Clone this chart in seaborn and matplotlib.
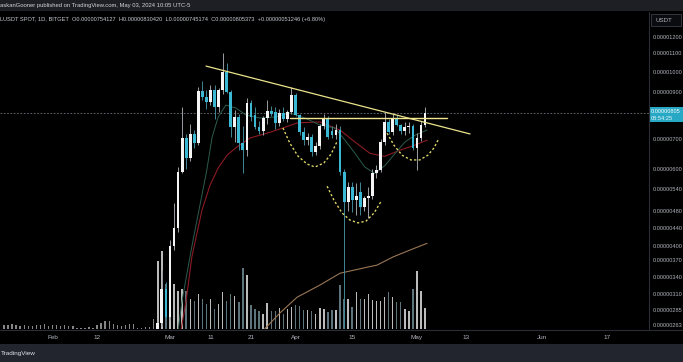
"""
Daily candles of a BITGET spot pair with volume, moving averages and the
trader's drawings (falling trendline, neckline and three cup arcs),
styled like a dark TradingView snapshot.
"""

import numpy as np
import pandas as pd
import matplotlib
matplotlib.use("Agg")
import matplotlib.pyplot as plt
import seaborn as sns
from matplotlib.patches import Rectangle
from matplotlib.lines import Line2D
from matplotlib.ticker import FuncFormatter, NullLocator


# ---- data (prices in units of 1e-8 USDT, days counted from 2024-03-01) ----
candle_day = list(range(-3, 64))
opens = [256, 266, 318, 275, 399, 439, 589, 705, 634, 720, 686, 902, 874, 850, 908, 830,
         905, 997, 898, 747, 787, 686, 662, 847, 795, 747, 731, 783, 812, 808, 763, 804,
         779, 808, 884, 795, 727, 697, 710, 655, 675, 750, 783, 730, 716, 735, 589, 503,
         545, 509, 530, 490, 514, 520, 586, 596, 690, 767, 727, 783, 755, 731, 745, 752,
         669, 705, 754]
highs = [268, 352, 330, 412, 500, 605, 830, 720, 760, 735, 920, 950, 905, 930, 930, 915,
         1102, 1046, 905, 816, 800, 750, 870, 860, 830, 770, 790, 860, 835, 830, 820, 830,
         815, 922, 895, 800, 745, 725, 720, 690, 760, 800, 790, 750, 760, 750, 600, 560,
         560, 555, 560, 520, 545, 600, 610, 700, 810, 780, 804, 795, 760, 765, 765, 760,
         723, 770, 830]
lows = [252, 262, 270, 270, 390, 430, 585, 600, 625, 670, 680, 860, 820, 840, 780, 810,
        890, 895, 708, 690, 662, 586, 640, 770, 740, 720, 715, 760, 790, 740, 750, 770,
        765, 800, 790, 715, 680, 680, 640, 645, 665, 740, 700, 705, 700, 580, 240, 480,
        477, 470, 470, 480, 462, 510, 570, 590, 680, 720, 715, 750, 720, 715, 725, 660,
        596, 695, 745]
closes = [266, 318, 275, 399, 439, 589, 705, 634, 720, 686, 902, 874, 850, 908, 830, 905,
          997, 898, 747, 787, 686, 662, 847, 787, 747, 731, 783, 812, 800, 763, 804, 779,
          808, 884, 795, 727, 697, 710, 655, 675, 750, 783, 710, 716, 735, 589, 503, 545,
          509, 520, 490, 514, 520, 586, 596, 690, 767, 727, 783, 755, 731, 745, 752, 669,
          705, 754, 805]

vol_day = list(range(-41, 64))
volume = [4, 4, 5, 4, 3, 4, 3, 3, 4, 4, 5, 3, 4, 4, 3, 4, 3, 3,
          1, 1, 1, 2, 1,
          4, 6, 8, 8, 5, 4, 3, 4, 5, 5,
          1, 1, 2, 2, 10,
          68, 78, 45, 70, 45, 38, 40, 38, 30, 28, 35, 30, 25, 30, 20, 25, 37, 28,
          35, 33, 27, 61, 54, 24, 20, 18, 15, 26, 18, 18, 21, 15, 20, 22, 24, 23,
          19, 19, 18, 15, 21, 20, 17, 19, 19, 44, 30, 30, 22, 37, 30, 30, 35, 29,
          28, 28, 32, 37, 32, 27, 27, 20, 18, 40, 58, 38, 21]

# moving averages
ma_fast_day = [2, 3, 4.2, 5.7, 7.4, 9.1, 10.4, 11.9, 13.8, 16.3, 18.8, 22.2, 25.9, 29.6,
               33.3, 37, 40.7, 43.2, 45.7, 48.1, 50.6, 53.1, 55, 58, 60.5, 63.5]
ma_fast = [256, 300, 346, 412, 495, 596, 708, 787, 838, 825, 795, 783, 787, 804,
           783, 755, 743, 697, 650, 605, 585, 610, 640, 690, 715, 735]
ma_mid_day = [2.7, 4, 5.4, 7.9, 9.9, 11.9, 14.1, 16.5, 19.8, 24, 27.9, 31.4, 37, 42,
              45.7, 49.4, 53, 56.8, 60.5, 63.5]
ma_mid = [256, 300, 377, 482, 550, 602, 644, 672, 705, 723, 743, 763, 767, 735,
          690, 650, 640, 661, 679, 697]
ma_slow_day = [23, 27.2, 31.4, 37, 42, 48.6, 51.1, 55.1, 59.3, 63.5]
ma_slow = [256, 281, 305, 325, 346, 357, 361, 377, 391, 405]

# drawings
trend_day = [8.9, 74.1]
trend_price = [1029, 720]
neck_day = [29.6, 68.4]
neck_price = [783, 783]
cup1_day = [27.9, 29.6, 31.6, 33.8, 35.8, 38.0, 39.8, 41.2]
cup1_price = [743, 686, 641, 615, 605, 618, 648, 690]
cup2_day = [38.8, 40.5, 42.5, 44.4, 46.4, 48.4, 50.4, 52.3]
cup2_price = [547, 508, 475, 458, 451, 455, 475, 508]
cup3_day = [53.6, 55.3, 57.3, 59.5, 61.7, 63.7, 65.2, 66.2]
cup3_price = [723, 679, 644, 628, 628, 644, 669, 697]

last_price = 805
price_ticks = [1200, 1100, 1000, 900, 700, 600, 540, 480, 440, 400, 370, 340, 310, 285, 263]
date_ticks = [-29, -18, 0, 10, 20, 31, 45, 61, 73, 92, 108]
date_labels = ["Feb", "12", "Mar", "11", "21", "Apr", "15", "May", "13", "Jun", "17"]

UP = "#f5f5f5"
DOWN = "#3bb8d3"
TEXT = "#b2b5be"

sns.set_theme(style="dark", rc={"axes.facecolor": "#000000",
                                "figure.facecolor": "#000000",
                                "axes.grid": False})
plt.rcParams["font.family"] = ["Liberation Sans", "DejaVu Sans"]

W, H = 683, 362


def box(x0, y0, x1, y1):
    """pixel box (top-left origin) -> figure-fraction rect"""
    return [x0 / W, 1 - y1 / H, (x1 - x0) / W, (y1 - y0) / H]


fig = plt.figure(figsize=(W / 100, H / 100), dpi=100)

ax_vol = fig.add_axes(box(0, 11, 649, 329))
ax = fig.add_axes(box(0, 11, 649, 329), sharex=ax_vol)
ax_vol.set_zorder(1)
ax.set_zorder(2)
ax.patch.set_alpha(0)

df = pd.DataFrame({"day": candle_day, "open": opens, "high": highs,
                   "low": lows, "close": closes})
df["up"] = df["close"] >= df["open"]

# --- volume ---
up_by_day = dict(zip(df["day"], df["up"]))
vol_colors = []
for d in vol_day:
    if d not in up_by_day:
        vol_colors.append((0.75, 0.75, 0.75, 0.7))
    elif up_by_day[d]:
        vol_colors.append((0.92, 0.92, 0.92, 0.8))
    else:
        vol_colors.append((0.62, 0.76, 0.82, 0.6))
ax_vol.bar(vol_day, volume, width=0.35, color=vol_colors, linewidth=0)
ax_vol.set_ylim(0, max(volume) * 4.1)
ax_vol.set_yticks([])

# --- candles (wicks are drawn dimmer than the bodies) ---
wick_colors = np.where(df["up"], "#9a9da3", "#3f8796")
ax.vlines(df["day"], df["low"], df["high"], colors=wick_colors, linewidth=0.7, zorder=3)
body_low = df[["open", "close"]].min(axis=1)
body_h = (df["close"] - df["open"]).abs().clip(lower=2)
ax.bar(df["day"], body_h, bottom=body_low, width=0.7,
       color=np.where(df["up"], UP, DOWN), linewidth=0, zorder=4)

# --- moving averages ---
sns.lineplot(x=ma_slow_day, y=ma_slow, ax=ax, color="#9a7656", linewidth=0.8, zorder=2)
sns.lineplot(x=ma_mid_day, y=ma_mid, ax=ax, color="#8a1c22", linewidth=0.8, zorder=2)
sns.lineplot(x=ma_fast_day, y=ma_fast, ax=ax, color="#2c5c4e", linewidth=0.7, zorder=2)

# --- drawings ---
ax.plot(trend_day, trend_price, color="#ebe48c", linewidth=0.9, zorder=5)
ax.plot(neck_day, neck_price, color="#f3e68f", linewidth=1.0, zorder=5)
for cd, cp in [(cup1_day, cup1_price), (cup2_day, cup2_price), (cup3_day, cup3_price)]:
    ax.plot(cd, cp, color="#ddd467", linewidth=1.0, linestyle=(0, (1.6, 1.6)), zorder=5)

ax.axhline(last_price, color="#6f737c", linewidth=0.6, linestyle=(0, (2, 2)), zorder=1)

# --- axes ---
ax.set_yscale("log")
ax.set_ylim(258, 1375)
ax.set_xlim(-41.98, 118.3)
ax.yaxis.tick_right()
ax.set_yticks(price_ticks)
ax.yaxis.set_minor_locator(NullLocator())
ax.yaxis.set_major_formatter(FuncFormatter(lambda v, _: f"{v * 1e-8:.8f}"))
ax.set_xticks(date_ticks)
ax.set_xticklabels(date_labels)
ax.tick_params(axis="y", length=0, pad=2.5, labelsize=4.1, labelcolor=TEXT)
ax.tick_params(axis="x", length=0, pad=4.5, labelsize=4.6, labelcolor=TEXT)
ax.set_xlabel("")
ax.set_ylabel("")
for a in (ax, ax_vol):
    for s in a.spines.values():
        s.set_visible(False)
ax_vol.tick_params(axis="x", labelbottom=False, length=0)

# --- frame pieces, header and footer ---
fig.add_artist(Line2D([649 / W, 649 / W], [1 - 329 / H, 1 - 12 / H],
                      color="#2a2d35", linewidth=0.8))
fig.add_artist(Line2D([0, 1], [1 - 329.5 / H, 1 - 329.5 / H],
                      color="#2a2d35", linewidth=0.8))
fig.add_artist(Rectangle((0, 1 - 11 / H), 1, 11 / H, transform=fig.transFigure,
                         facecolor="#1d1f25", edgecolor="none"))
fig.add_artist(Rectangle((0, 0), 1, 18 / H, transform=fig.transFigure,
                         facecolor="#22252d", edgecolor="none"))

fig.text(0, 1 - 5.5 / H, "askanGooner published on TradingView.com, May 03, 2024 10:05 UTC-5",
         color="#d1d4dc", fontsize=4.2, va="center", ha="left")
fig.text(0, 1 - 19.5 / H,
         "LUSDT SPOT, 1D, BITGET  O0.00000754127  H0.00000830420  L0.00000745174  "
         "C0.00000805373  +0.00000051246 (+6.80%)",
         color="#c9ccd4", fontsize=4.1, va="center", ha="left")
fig.text(1 / W, 9 / H, "TradingView", color="#e0e3eb", fontsize=4.6,
         va="center", ha="left")

fig.add_artist(Rectangle((651 / W, 1 - 26 / H), 30 / W, 12 / H, transform=fig.transFigure,
                         facecolor="#0b0c0f", edgecolor="#3a3e48", linewidth=0.6))
fig.text(655 / W, 1 - 20 / H, "USDT", color=TEXT, fontsize=4.4, va="center")

fig.add_artist(Rectangle((649 / W, 1 - 122 / H), 34 / W, 15 / H, transform=fig.transFigure,
                         facecolor="#27a8c4", edgecolor="none"))
fig.text(651 / W, 1 - 111.5 / H, f"{last_price * 1e-8:.8f}", color="#ffffff",
         fontsize=4.1, va="center")
fig.text(651 / W, 1 - 118.5 / H, "08:54:25", color="#e8f7fa", fontsize=4.1, va="center")

fig.savefig("out.png", dpi=100, facecolor=fig.get_facecolor())
